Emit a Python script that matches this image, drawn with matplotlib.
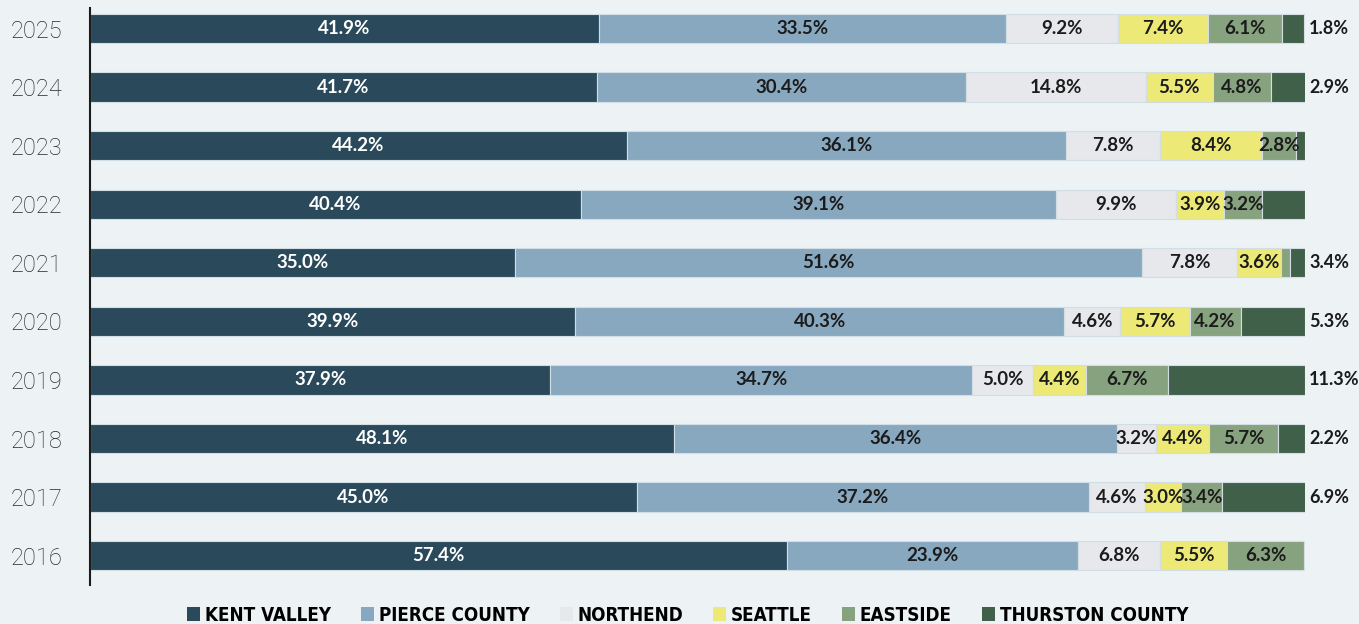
import numpy as np
import matplotlib.pyplot as plt
from matplotlib.patches import Patch

# rows listed top to bottom as they appear in the chart
years = ["2025", "2024", "2023", "2022", "2021", "2020", "2019", "2018", "2017", "2016"]

kent_valley = [41.9, 41.7, 44.2, 40.4, 35.0, 39.9, 37.9, 48.1, 45.0, 57.4]
pierce_county = [33.5, 30.4, 36.1, 39.1, 51.6, 40.3, 34.7, 36.4, 37.2, 23.9]
northend = [9.2, 14.8, 7.8, 9.9, 7.8, 4.6, 5.0, 3.2, 4.6, 6.8]
seattle = [7.4, 5.5, 8.4, 3.9, 3.6, 5.7, 4.4, 4.4, 3.0, 5.5]
eastside = [6.1, 4.8, 2.8, 3.2, 0.8, 4.2, 6.7, 5.7, 3.4, 6.3]
thurston_county = [1.8, 2.9, 0.7, 3.5, 1.2, 5.3, 11.3, 2.2, 6.9, 0.0]
# the thurston labels sit outside the bars, as printed in the source
thurston_labels = ["1.8%", "2.9%", "", "", "3.4%", "5.3%", "11.3%", "2.2%", "6.9%", ""]

series_names = ["KENT VALLEY", "PIERCE COUNTY", "NORTHEND", "SEATTLE", "EASTSIDE", "THURSTON COUNTY"]
series = [kent_valley, pierce_county, northend, seattle, eastside, thurston_county]
colors = ["#2a4a5b", "#88a8c0", "#e6e8eb", "#ece977", "#87a27e", "#41604a"]
label_colors = ["white", "#1b1b1b", "#1b1b1b", "#1b1b1b", "#1b1b1b", "#1b1b1b"]

bg = "#edf2f5"
pct_font = ["Lato", "DejaVu Sans"]

fig = plt.figure(figsize=(13.59, 6.24), dpi=100, facecolor=bg)
ax = fig.add_axes([90 / 1359, 1 - 585 / 624, 1215 / 1359, 577 / 624])
ax.set_facecolor(bg)

y = np.arange(len(years))[::-1]
left = np.zeros(len(years))

for i, (name, vals) in enumerate(zip(series_names, series)):
    vals = np.array(vals)
    ax.barh(y, vals, left=left, height=0.5, color=colors[i],
            edgecolor="#d3dde4", linewidth=0.8, label=name)
    if i < len(series) - 1:
        for yy, l, v in zip(y, left, vals):
            if v < 1.5:
                continue
            ax.text(l + v / 2, yy, f"{v:.1f}%", ha="center", va="center",
                    color=label_colors[i], fontsize=13.5, fontweight="bold",
                    family=pct_font)
    left = left + vals

for yy, lab in zip(y, thurston_labels):
    if lab:
        ax.annotate(lab, xy=(100, yy), xytext=(3, 0), textcoords="offset points",
                    ha="left", va="center", fontsize=13, fontweight="bold",
                    color="#1b1b1b", family=pct_font, annotation_clip=False)

ax.set_xlim(0, 100)
ax.set_ylim(-0.5, 9.35)
ax.set_yticks(y)
ax.set_yticklabels(years, fontsize=17, color="#2a2a2a", fontweight="light",
                   family=["Roboto", "DejaVu Sans"])
ax.tick_params(axis="y", length=0, pad=20)
ax.set_xticks([])
for s in ["top", "right", "bottom"]:
    ax.spines[s].set_visible(False)
ax.spines["left"].set_linewidth(1.5)
ax.spines["left"].set_color("#1b1b1b")

handles = [Patch(facecolor=c, edgecolor="none") for c in colors]
fig.legend(handles, series_names, loc="center", bbox_to_anchor=(0.506, 0.0144),
           ncol=6, frameon=False, handlelength=0.7, handleheight=0.7,
           handletextpad=0.25, columnspacing=1.6,
           prop={"family": ["DejaVu Sans"], "stretch": "condensed",
                 "weight": "bold", "size": 13.5})

fig.savefig("out.png", dpi=100, facecolor=bg)
